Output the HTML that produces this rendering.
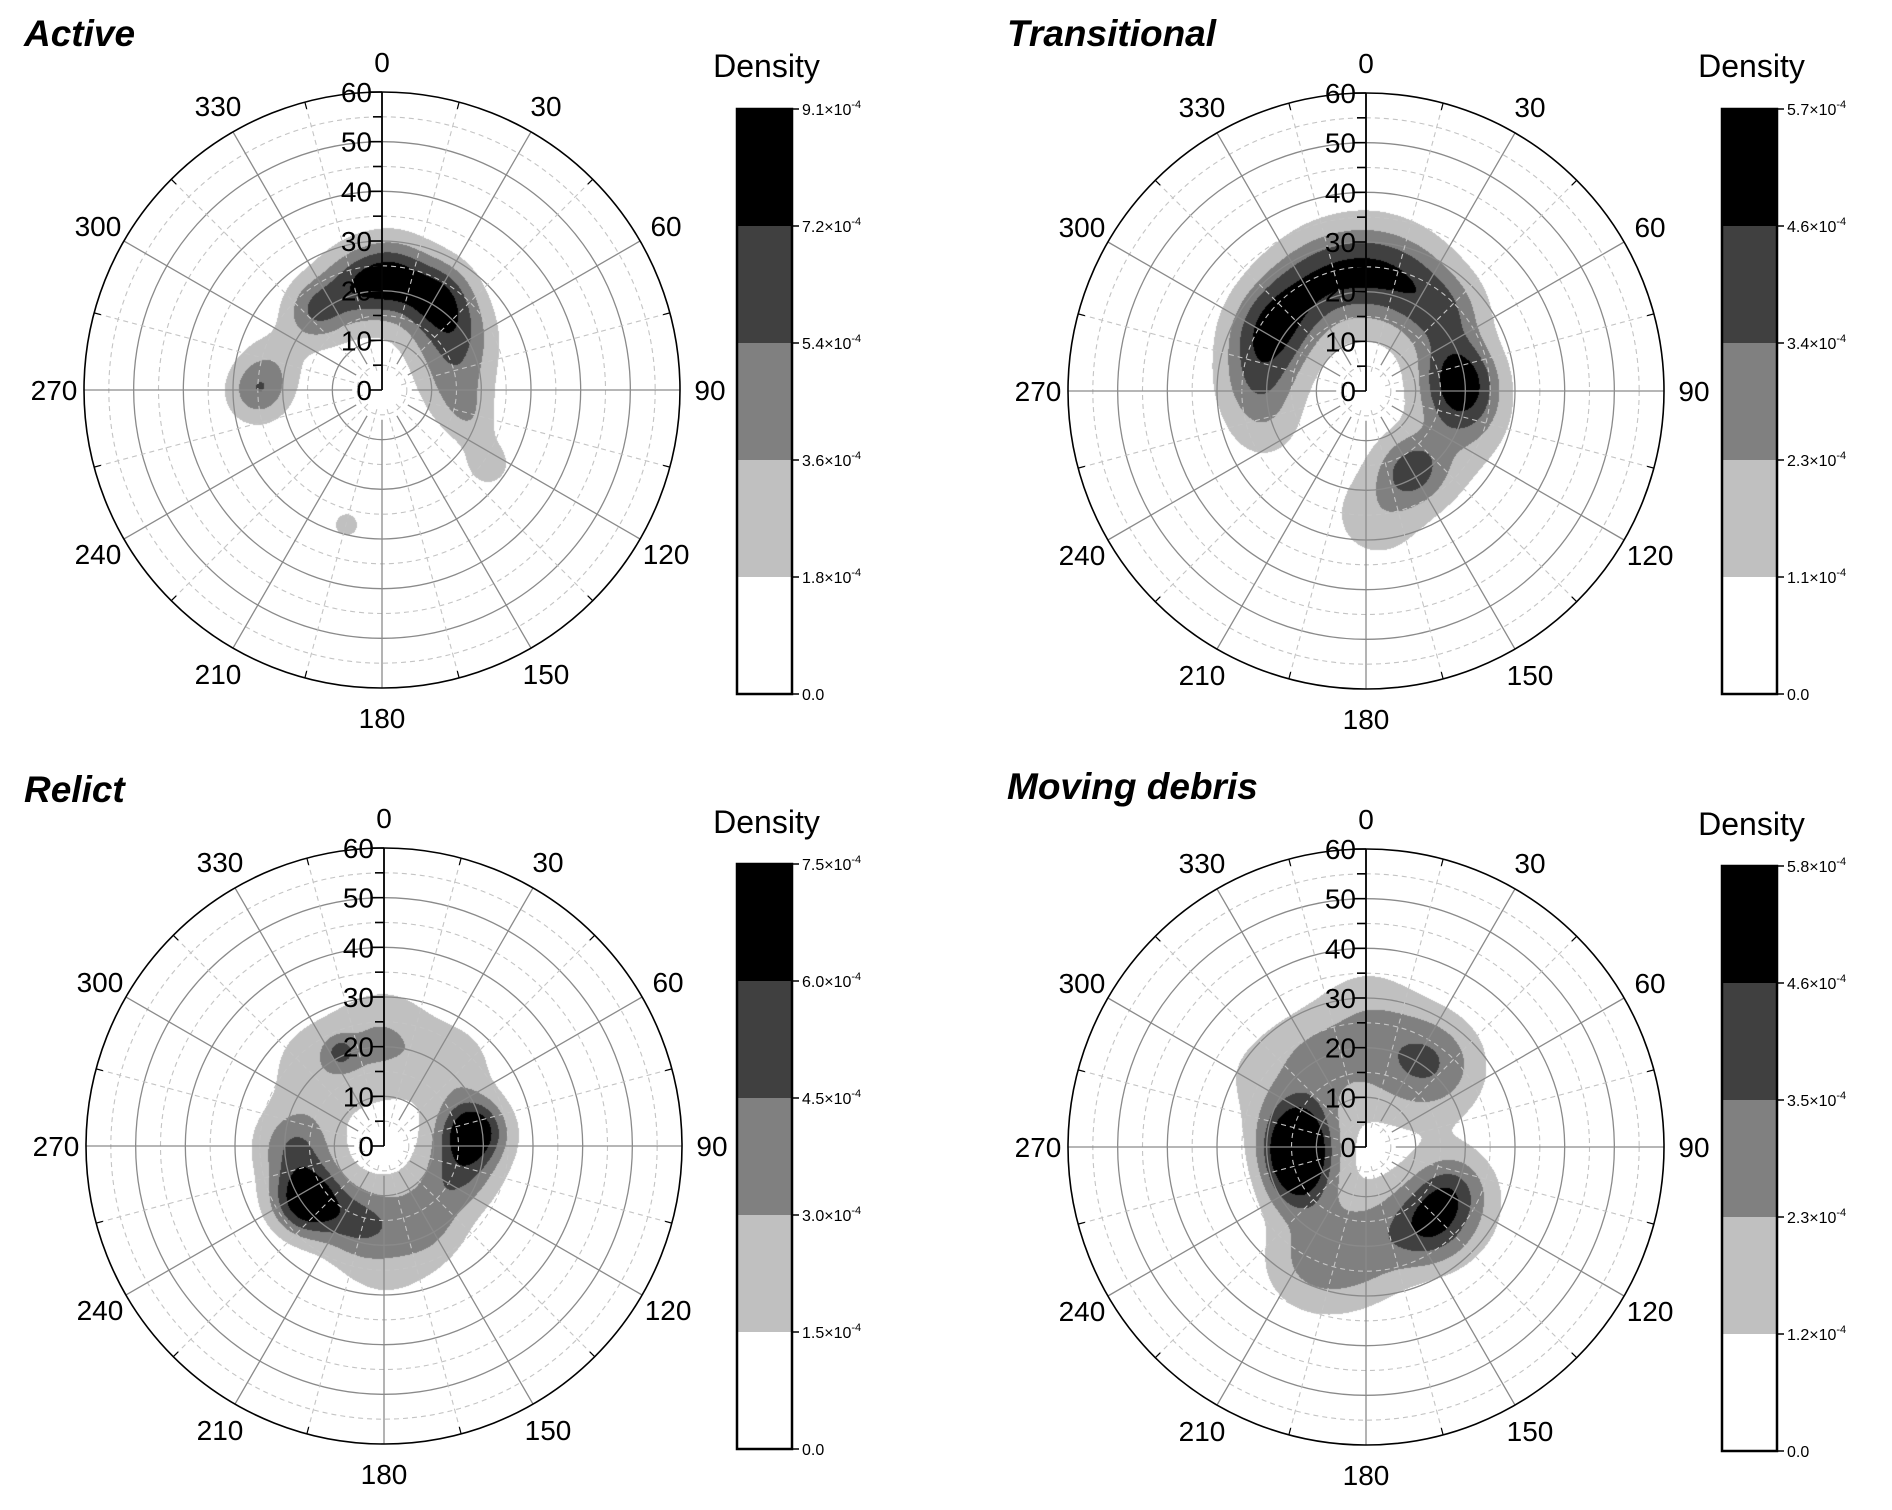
<!DOCTYPE html>
<html><head><meta charset="utf-8">
<style>
html,body{margin:0;padding:0;background:#fff;}
#wrap{position:relative;width:1892px;height:1510px;overflow:hidden;background:#fff;font-family:"Liberation Sans",sans-serif;}
canvas{position:absolute;}
svg{position:absolute;left:0;top:0;}
</style></head>
<body>
<div id="wrap">
<canvas id="c0"></canvas>
<canvas id="c1"></canvas>
<canvas id="c2"></canvas>
<canvas id="c3"></canvas>
<svg id="ov" width="1892" height="1510"></svg>
</div>
<script>
// ---- data (kernel components per panel: angle deg, radius, weight x1e-4, spread) ----
const activeAngles  = [5,30,50,345,320,70,95,270,285,125,110,195,0,265];
const activeRadii   = [23,22,19,22,21,16,15,25,23,26,19,28,20,26];
const activeWeights = [5.5,5.5,3.5,4,4.5,2.5,2.2,3.4,2,2.6,1.8,2.3,1.5,1.2];
const activeSpreads = [5,5,5.5,5,4.5,6,5,4,5,4,4,3,12,7];
const activeLevels  = [1.8,3.6,5.4,7.2,9.1];
const activeLabels  = ["9.1","7.2","5.4","3.6","1.8"];

const transAngles  = [300,320,340,0,20,45,80,100,275,150,175,250,0,130];
const transRadii   = [23,24,25,25,24,22,19,20,22,18,25,22,22,22];
const transWeights = [3.5,2.4,2.3,2.3,2.3,2.8,3.8,2.5,2.4,3,1.8,1.3,1,1];
const transSpreads = [6,6,6,6,6,6,5.5,6,6,5,7,6,14,8];
const transLevels  = [1.1,2.3,3.4,4.6,5.7];
const transLabels  = ["5.7","4.6","3.4","2.3","1.1"];

const relictAngles  = [235,80,200,150,110,40,0,320,270,335,0,90,180,270,320,180];
const relictRadii   = [19,18,16,17,16,22,23,22,18,21,18,18,18,18,20,24];
const relictWeights = [7,6.5,3,2.6,3,2,1.8,1.4,3,2.5,1.2,1.2,1.2,1.2,0.6,1];
const relictSpreads = [5,4.5,5,6,5,6,7,7,5,2,9,9,9,9,8,8];
const relictLevels  = [1.5,3.0,4.5,6.0,7.5];
const relictLabels  = ["7.5","6.0","4.5","3.0","1.5"];

const debrisAngles  = [265,290,240,140,115,25,40,180,330,0,210,0,45,300,200,120];
const debrisRadii   = [14,15,16,20,19,20,22,20,20,28,25,15,22,28,28,25];
const debrisWeights = [5.2,2.6,2.6,3.6,2.2,1.4,1.1,2.2,1.6,1.1,1.3,0.9,0.9,0.9,0.9,0.9];
const debrisSpreads = [5,5,5,6,5,7,6,8,7,7,7,15,9,9,9,9];
const debrisLevels  = [1.2,2.3,3.5,4.6,5.8];
const debrisLabels  = ["5.8","4.6","3.5","2.3","1.2"];

const angleTicks = [0,30,60,90,120,150,180,210,240,270,300,330];
const radialTicks = [0,10,20,30,40,50,60];

const R = 298, RMAX = 60;
const panels = [
 {name:"active",title:"Active",cx:382,cy:390,tx:24,ty:46,bx:737,by:109,dy:66,A:activeAngles,Rr:activeRadii,W:activeWeights,S:activeSpreads,L:activeLevels,T:activeLabels},
 {name:"transitional",title:"Transitional",cx:1366,cy:391,tx:1007,ty:46,bx:1722,by:109,dy:66,A:transAngles,Rr:transRadii,W:transWeights,S:transSpreads,L:transLevels,T:transLabels},
 {name:"relict",title:"Relict",cx:384,cy:1146,tx:24,ty:802,bx:737,by:864,dy:822,A:relictAngles,Rr:relictRadii,W:relictWeights,S:relictSpreads,L:relictLevels,T:relictLabels},
 {name:"moving-debris",title:"Moving debris",cx:1366,cy:1147,tx:1007,ty:799,bx:1722,by:866,dy:824,A:debrisAngles,Rr:debrisRadii,W:debrisWeights,S:debrisSpreads,L:debrisLevels,T:debrisLabels}
];
const fills = ["#ffffff","#c0c0c0","#808080","#404040","#000000"];
const NS = "http://www.w3.org/2000/svg";
const ov = document.getElementById('ov');
function mk(tag, attrs, parent, text){
  const e = document.createElementNS(NS, tag);
  for (const k in attrs) e.setAttribute(k, attrs[k]);
  if (text !== undefined) e.textContent = text;
  (parent||ov).appendChild(e);
  return e;
}
function rScale(v){ return v / RMAX * R; }
function polar(cx, cy, deg, rpx){ const t = deg*Math.PI/180; return [cx + rpx*Math.sin(t), cy - rpx*Math.cos(t)]; }

panels.forEach((p, i) => {
  const cv = document.getElementById('c'+i);
  cv.width = 2*R+2; cv.height = 2*R+2;
  cv.style.left = (p.cx-R-1)+'px'; cv.style.top = (p.cy-R-1)+'px';
  const ctx = cv.getContext('2d');
  const img = ctx.createImageData(cv.width, cv.height);
  const kx = p.A.map((a,k)=>p.Rr[k]*Math.sin(a*Math.PI/180));
  const ky = p.A.map((a,k)=>p.Rr[k]*Math.cos(a*Math.PI/180));
  const rgb = [[255,255,255],[192,192,192],[128,128,128],[64,64,64],[0,0,0]];
  for (let y=0;y<cv.height;y++) for (let x=0;x<cv.width;x++){
    const dx = x-R-1, dy = y-R-1;
    const d = Math.hypot(dx,dy);
    const o = (y*cv.width+x)*4;
    if (d > R){ img.data[o+3]=0; continue; }
    const ux = dx/R*RMAX, uy = -dy/R*RMAX;
    let v = 0;
    for (let k=0;k<kx.length;k++){
      const ex = ux-kx[k], ey = uy-ky[k];
      v += p.W[k]*Math.exp(-(ex*ex+ey*ey)/(2*p.S[k]*p.S[k]));
    }
    let lvl = 0;
    for (let j=0;j<4;j++) if (v >= p.L[j]) lvl = j+1;
    const c = rgb[lvl];
    img.data[o]=c[0]; img.data[o+1]=c[1]; img.data[o+2]=c[2]; img.data[o+3]=255;
  }
  ctx.putImageData(img,0,0);

  const g = mk('g', {});
  
  
  for (let v=5; v<=55; v+=5){
    const solid = v%10===0;
    const c = mk('circle',{cx:p.cx,cy:p.cy,r:rScale(v),fill:'none',stroke:solid?'#8a8a8a':'#c4c4c4','stroke-width':solid?1.3:1.1,'stroke-dasharray':solid?'':'5,4'}, g);
    
    
  }
  for (let a=0; a<360; a+=15){
    const solid = a%30===0;
    const [x1,y1] = polar(p.cx,p.cy,a,rScale(solid?6:4));
    const [x2,y2] = polar(p.cx,p.cy,a,R);
    const l = mk('line',{x1,y1,x2,y2,stroke:solid?'#8a8a8a':'#c4c4c4','stroke-width':solid?1.3:1.1,'stroke-dasharray':solid?'':'5,4'}, g);
    
    
    if (!solid){
      const [x3,y3] = polar(p.cx,p.cy,a,R-7);
      mk('line',{x1:x3,y1:y3,x2,y2,stroke:'#000','stroke-width':1.2}, g);
    }
  }
  const oc = mk('circle',{cx:p.cx,cy:p.cy,r:R,fill:'none',stroke:'#000','stroke-width':1.6}, g);
  
  
  mk('line',{x1:p.cx,y1:p.cy,x2:p.cx,y2:p.cy-R,stroke:'#000','stroke-width':1.8}, g);
  for (let v=0; v<=60; v+=5){
    const y = p.cy - rScale(v);
    mk('line',{x1:p.cx-(v%10===0?13:9),y1:y,x2:p.cx,y2:y,stroke:'#000','stroke-width':1.6}, g);
  }
  radialTicks.forEach(v => {
    const t = mk('text',{x:p.cx-10,y:p.cy-rScale(v)+10,'text-anchor':'end','font-size':28,fill:'#000'}, g, String(v));
    
    
  });
  angleTicks.forEach(a => {
    const [x,y] = polar(p.cx,p.cy,a,328);
    const t = mk('text',{x:x,y:y+10,'text-anchor':'middle','font-size':28,fill:'#000'}, g, String(a));
    
    
  });
  const tt = mk('text',{x:p.tx,y:p.ty,'font-size':37,'font-weight':'bold','font-style':'italic',fill:'#000'}, g, p.title);
  
  
  const cb = mk('g',{}, g);
  
  
  const bw = 55, bh = 117;
  for (let j=0;j<5;j++){
    const r = mk('rect',{x:p.bx,y:p.by+j*bh,width:bw,height:bh,fill:fills[4-j]}, cb);
    
    
  }
  mk('rect',{x:p.bx,y:p.by,width:bw,height:5*bh,fill:'none',stroke:'#000','stroke-width':2.5}, cb);
  const labs = p.T.concat(["0.0"]);
  labs.forEach((s,j) => {
    const y = p.by + j*bh;
    mk('line',{x1:p.bx+bw,y1:y,x2:p.bx+bw+7,y2:y,stroke:'#000','stroke-width':1.5}, cb);
    const t = mk('text',{x:p.bx+bw+10,y:y+6,'font-size':16,fill:'#000'}, cb);
    
    
    if (s === "0.0") t.textContent = s;
    else {
      t.appendChild(document.createTextNode(s+"×10"));
      mk('tspan',{dy:-7,'font-size':11}, t, "-4");
    }
  });
  const dl = mk('text',{x:p.bx+bw/2+2,y:p.dy+11,'text-anchor':'middle','font-size':32,fill:'#000'}, g, 'Density');
  
  
});
</script>
</body></html>
